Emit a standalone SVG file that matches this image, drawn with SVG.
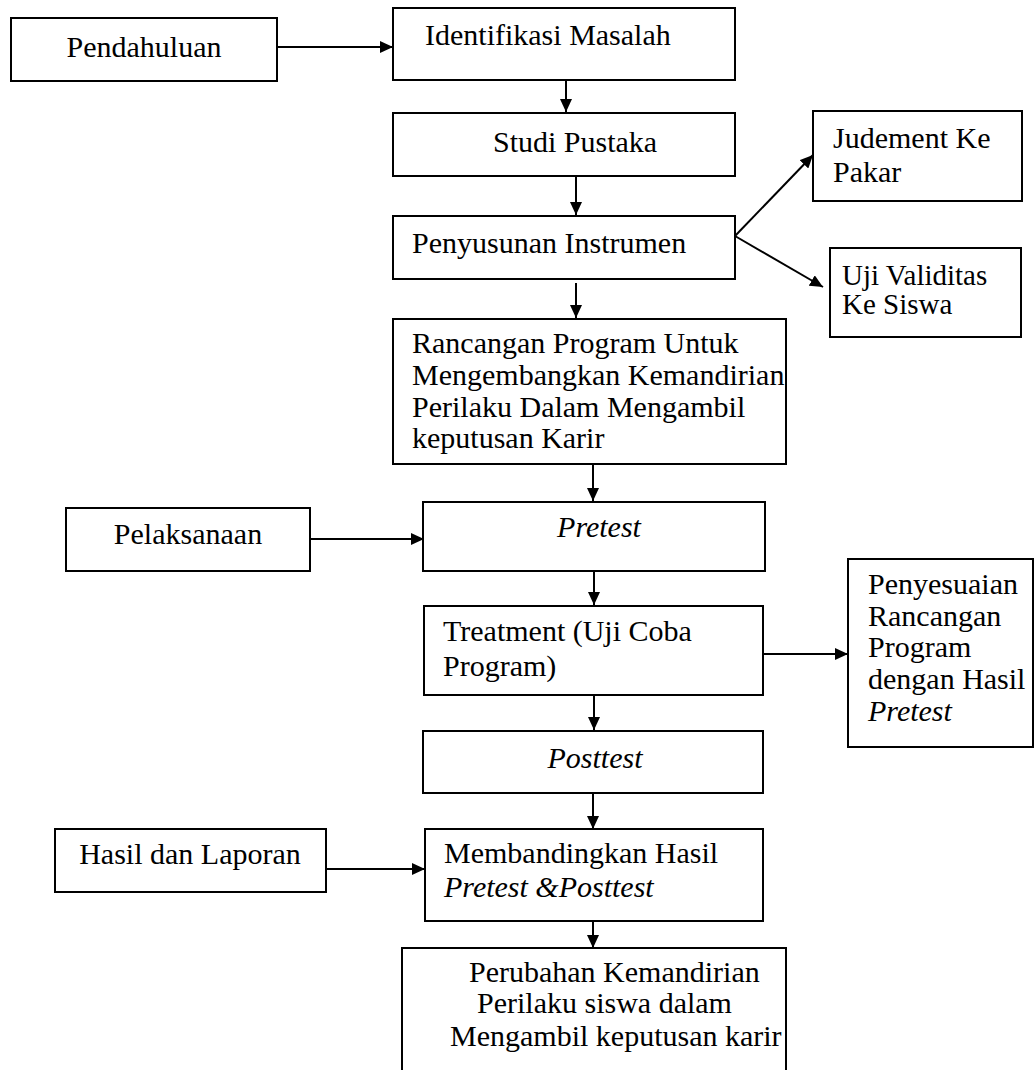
<svg xmlns="http://www.w3.org/2000/svg" width="1034" height="1070" viewBox="0 0 1034 1070">
<defs>
<style>
.box{fill:#fff;stroke:#000;stroke-width:2}
.t{font-family:"Liberation Serif","Times New Roman",serif;font-size:30px;fill:#000}
.s{font-size:29px}
.i{font-style:italic}
.c{fill:none;stroke:#000;stroke-width:2}
</style>
<marker id="ah" markerUnits="userSpaceOnUse" markerWidth="13" markerHeight="12" refX="13" refY="6" orient="auto">
<path d="M0,0 L13,6 L0,12 z" fill="#000"/>
</marker>
</defs>
<rect width="1034" height="1070" fill="#fff"/>

<g id="connectors">
<path class="c" d="M277,47 H393" marker-end="url(#ah)"/>
<path class="c" d="M566,80 V112" marker-end="url(#ah)"/>
<path class="c" d="M576,176 V215" marker-end="url(#ah)"/>
<path class="c" d="M735,236 L813,155" marker-end="url(#ah)"/>
<path class="c" d="M735,236 L823,287" marker-end="url(#ah)"/>
<path class="c" d="M576,283 V318" marker-end="url(#ah)"/>
<path class="c" d="M593,464 V501" marker-end="url(#ah)"/>
<path class="c" d="M310,539 H424" marker-end="url(#ah)"/>
<path class="c" d="M594,571 V605" marker-end="url(#ah)"/>
<path class="c" d="M763,654 H848" marker-end="url(#ah)"/>
<path class="c" d="M594,695 V730" marker-end="url(#ah)"/>
<path class="c" d="M326,869 H425" marker-end="url(#ah)"/>
<path class="c" d="M593,793 V829" marker-end="url(#ah)"/>
<path class="c" d="M593,913 V948" marker-end="url(#ah)"/>
</g>

<g id="pendahuluan">
<rect class="box" x="11" y="18" width="266" height="63"/>
<text class="t" x="144" y="57" text-anchor="middle">Pendahuluan</text>
</g>
<g id="identifikasi">
<rect class="box" x="393" y="8" width="342" height="72"/>
<text class="t" x="425" y="45">Identifikasi Masalah</text>
</g>
<g id="studi">
<rect class="box" x="393" y="113" width="342" height="63"/>
<text class="t" x="493" y="152">Studi Pustaka</text>
</g>
<g id="penyusunan">
<rect class="box" x="393" y="216" width="342" height="63"/>
<text class="t" x="412" y="253">Penyusunan Instrumen</text>
</g>
<g id="judement">
<rect class="box" x="813" y="111" width="209" height="90"/>
<text class="t" x="833" y="148">Judement Ke</text>
<text class="t" x="833" y="182">Pakar</text>
</g>
<g id="ujivaliditas">
<rect class="box" x="830" y="248" width="191" height="89"/>
<text class="t s" x="842" y="285">Uji Validitas</text>
<text class="t s" x="842" y="314">Ke Siswa</text>
</g>
<g id="rancangan">
<rect class="box" x="393" y="319" width="393" height="145"/>
<text class="t" x="412" y="353">Rancangan Program Untuk</text>
<text class="t" x="412" y="385">Mengembangkan Kemandirian</text>
<text class="t" x="412" y="417">Perilaku Dalam Mengambil</text>
<text class="t" x="412" y="448">keputusan Karir</text>
</g>
<g id="pelaksanaan">
<rect class="box" x="66" y="508" width="244" height="63"/>
<text class="t" x="188" y="544" text-anchor="middle">Pelaksanaan</text>
</g>
<g id="pretest">
<rect class="box" x="423" y="502" width="342" height="69"/>
<text class="t i" x="599" y="537" text-anchor="middle">Pretest</text>
</g>
<g id="treatment">
<rect class="box" x="424" y="606" width="339" height="89"/>
<text class="t" x="443" y="641">Treatment (Uji Coba</text>
<text class="t" x="443" y="676">Program)</text>
</g>
<g id="penyesuaian">
<rect class="box" x="848" y="559" width="185" height="188"/>
<text class="t" x="868" y="594">Penyesuaian</text>
<text class="t" x="868" y="626">Rancangan</text>
<text class="t" x="868" y="657">Program</text>
<text class="t" x="868" y="689">dengan Hasil</text>
<text class="t i" x="868" y="721">Pretest</text>
</g>
<g id="posttest">
<rect class="box" x="423" y="731" width="340" height="62"/>
<text class="t i" x="595" y="768" text-anchor="middle">Posttest</text>
</g>
<g id="hasil">
<rect class="box" x="55" y="829" width="271" height="63"/>
<text class="t" x="190" y="864" text-anchor="middle">Hasil dan Laporan</text>
</g>
<g id="membandingkan">
<rect class="box" x="425" y="829" width="338" height="92"/>
<text class="t" x="444" y="863">Membandingkan Hasil</text>
<text class="t i" x="444" y="897">Pretest &amp;Posttest</text>
</g>
<g id="perubahan">
<rect class="box" x="402" y="948" width="384" height="140"/>
<text class="t" x="469" y="982">Perubahan Kemandirian</text>
<text class="t" x="477" y="1013">Perilaku siswa dalam</text>
<text class="t" x="450" y="1046">Mengambil keputusan karir</text>
</g>
</svg>
